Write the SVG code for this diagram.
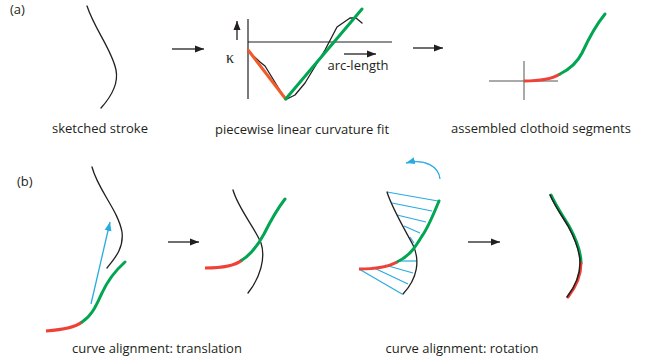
<svg xmlns="http://www.w3.org/2000/svg" width="658" height="364" viewBox="0 0 658 364">
<defs>
<marker id="ah" markerUnits="userSpaceOnUse" markerWidth="10" markerHeight="8" refX="9" refY="4" orient="auto"><path d="M0,0.5 L9,4 L0,7.5 Z" fill="#231f20"/></marker>
<marker id="ab" markerUnits="userSpaceOnUse" markerWidth="10" markerHeight="8" refX="9" refY="4" orient="auto"><path d="M0,0.5 L9,4 L0,7.5 Z" fill="#29abe2"/></marker>
<style>
text{font-family:"Open Sans","Liberation Sans",sans-serif;font-size:13px;fill:#231f20}
.lbl{text-anchor:middle}
.kap{font-family:"Liberation Serif","DejaVu Serif",serif;font-size:16px;text-anchor:middle}
.sk{fill:none;stroke:#231f20;stroke-width:1.3;stroke-linejoin:round;stroke-linecap:round}
.ax{fill:none;stroke:#231f20;stroke-width:1.2}
.cr{fill:none;stroke:#555;stroke-width:1}
.ar{fill:none;stroke:#231f20;stroke-width:1.3;marker-end:url(#ah)}
.gr{fill:none;stroke:#00a651;stroke-width:3;stroke-linecap:round}
.rd{fill:none;stroke:#ef4136;stroke-width:3;stroke-linecap:round}
.or{fill:none;stroke:#f15a29;stroke-width:3;stroke-linecap:round}
.bl{fill:none;stroke:#29abe2;stroke-width:1.2}
.ba{fill:none;stroke:#29abe2;stroke-width:1.3;marker-end:url(#ab)}
</style>
</defs>

<text x="10" y="14">(a)</text>
<text x="17" y="186">(b)</text>

<g id="sketched-stroke">
<path class="sk" d="M87,6 C95,30 112,50 116,70 C119,85 110,98 101,108"/>
<text class="lbl" x="100" y="133">sketched stroke</text>
</g>

<g id="curvature-fit">
<line class="ax" x1="248" y1="19" x2="248" y2="99"/>
<line class="ax" x1="248" y1="42" x2="392" y2="42"/>
<line class="ar" x1="237" y1="40" x2="237" y2="21"/>
<text class="kap" x="230" y="63">κ</text>
<line class="ar" x1="344" y1="54" x2="376" y2="54"/>
<text class="lbl" x="358" y="70">arc-length</text>
<path class="sk" d="M248,51 L260,62 L265,66 L284,97 L287,99 L295,95 L305,83 L325,50 L337,27 L350,18 L356,18 L362,23"/>
<line class="or" x1="248.5" y1="50.5" x2="285.7" y2="99"/>
<line class="gr" x1="285.7" y1="99" x2="362" y2="9"/>
<text class="lbl" x="302" y="134">piecewise linear curvature fit</text>
</g>

<g id="clothoid-segments">
<line class="cr" x1="489" y1="81" x2="558" y2="81"/>
<line class="cr" x1="524" y1="61" x2="524" y2="100"/>
<path class="rd" d="M524,81 C540,81 552,79 560,74" style="stroke-linecap:butt"/>
<path class="gr" d="M560,74 C570,69 577,63 582,53 C588,40 596,25 605,14"/>
<text class="lbl" x="541" y="133">assembled clothoid segments</text>
</g>

<g id="translation-before">
<path class="sk" d="M92,167 C98,190 118,210 122,232 C124,248 115,258 107,268"/>
<path class="rd" d="M46,331 C60,330 75,328 82,322" style="stroke-linecap:butt"/>
<path class="gr" d="M82,322 C93,315 97,303 102,293 C107,282 116,270 125,262"/>
<line class="ba" x1="91" y1="304" x2="110" y2="222"/>
</g>

<g id="translation-after">
<path class="sk" d="M233,190 C238,208 255,228 261,243 C266,258 260,278 248,293"/>
<path class="rd" d="M205,268 C220,268 235,266 242,260" style="stroke-linecap:butt"/>
<path class="gr" d="M242,260 C252,254 258,245 264,234 C270,222 278,208 285,199"/>
</g>
<text class="lbl" x="157" y="353">curve alignment: translation</text>

<g id="rotation-before">
<g class="bl">
<line x1="387" y1="192" x2="438" y2="201"/>
<line x1="392" y1="203" x2="432" y2="211"/>
<line x1="397" y1="215" x2="426" y2="222"/>
<line x1="404" y1="226" x2="420" y2="233"/>
<line x1="410" y1="237" x2="414" y2="243"/>
<line x1="359" y1="269" x2="402" y2="294"/>
<line x1="372" y1="267" x2="408" y2="284"/>
<line x1="385" y1="265" x2="413" y2="273"/>
<line x1="397" y1="261" x2="417" y2="261"/>
</g>
<path class="sk" d="M387,192 C392,208 405,230 413,245 C420,260 418,278 403,294"/>
<path class="gr" d="M439,201 C432,218 428,228 422,236 C416,246 410,256 397,262"/>
<path class="rd" d="M397,262 C388,267 372,269 359,269" style="stroke-linecap:butt"/>
<path class="ba" d="M440,179 C439,167 425,158 406,163"/>
</g>

<g id="rotation-after">
<path class="gr" d="M551,195 C557,208 563,216 569,226 C575,237 581,250 581,263"/>
<path class="rd" d="M581,263 C581,276 575,288 568,297"/>
<path class="sk" d="M550,195 C556,208 562,216 568,226 C574,237 580,250 580,263 C580,276 574,288 567,297" style="stroke-width:1.5"/>
</g>
<text class="lbl" x="462" y="353">curve alignment: rotation</text>

<g id="connectors">
<line class="ar" x1="172" y1="49" x2="204" y2="49"/>
<line class="ar" x1="413" y1="48" x2="443" y2="48"/>
<line class="ar" x1="168" y1="242" x2="199" y2="242"/>
<line class="ar" x1="468" y1="242" x2="500" y2="242"/>
</g>
</svg>
